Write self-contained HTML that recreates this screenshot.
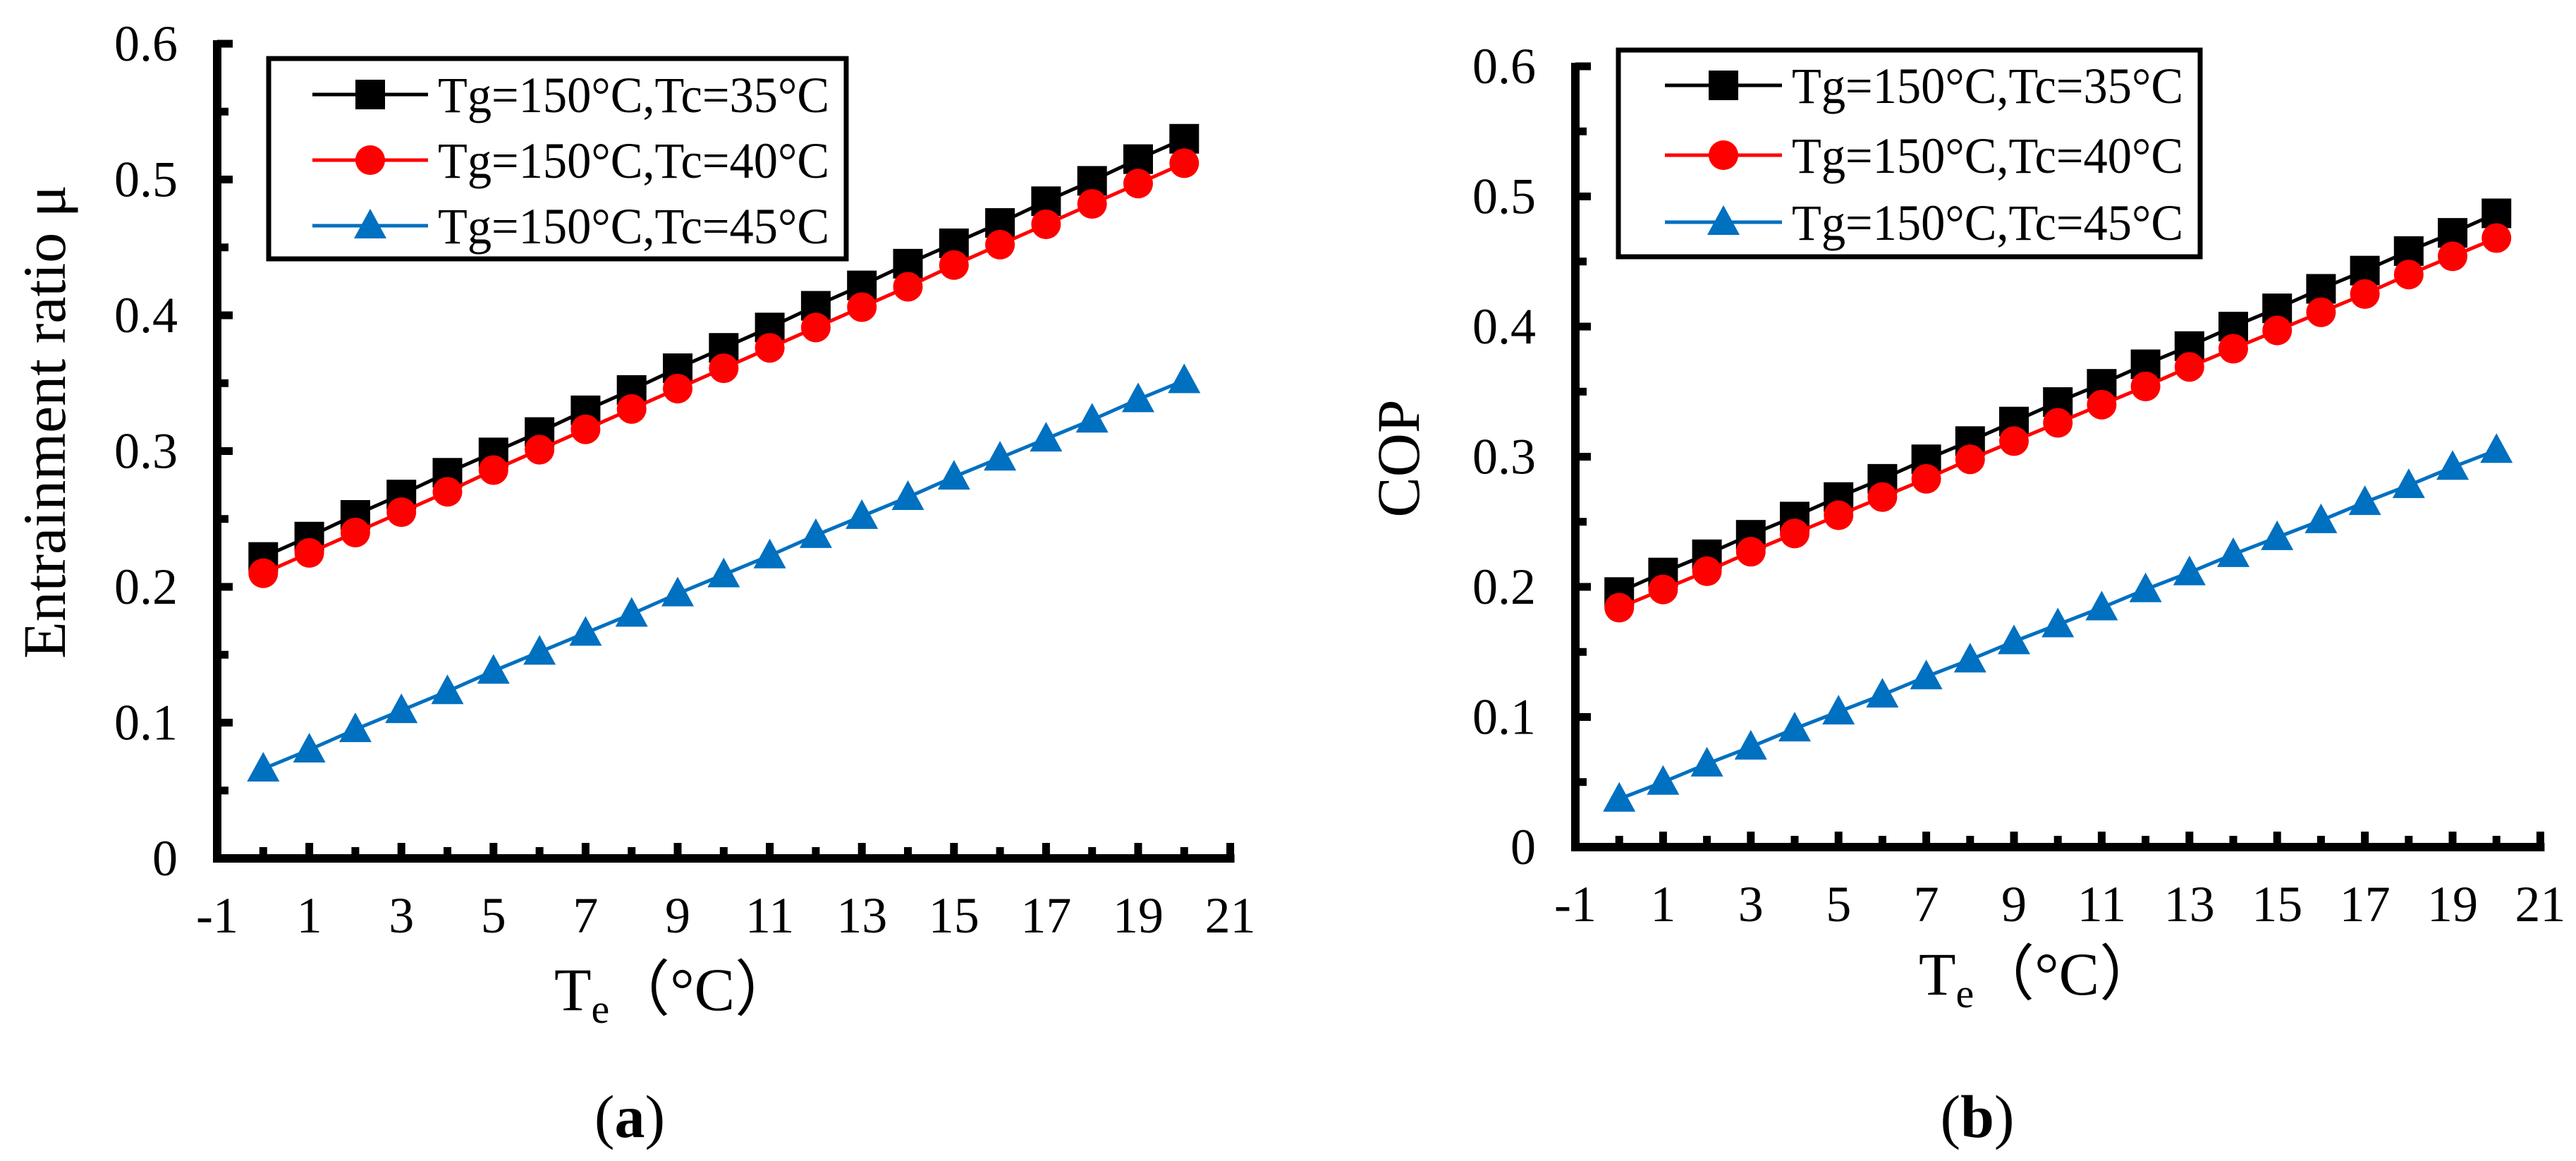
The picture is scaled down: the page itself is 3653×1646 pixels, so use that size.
<!DOCTYPE html>
<html><head><meta charset="utf-8"><style>
html,body{margin:0;padding:0;background:#fff;}
svg{display:block;}
svg text{font-family:"Liberation Serif","DejaVu Serif","Times New Roman",serif;}
</style></head><body>
<svg id="fig" width="3653" height="1646" viewBox="0 0 3653 1646" xmlns="http://www.w3.org/2000/svg" font-family="Liberation Serif, DejaVu Serif, serif"></svg>
<script>
const xValues=[0,1,2,3,4,5,6,7,8,9,10,11,12,13,14,15,16,17,18,19,20];
const xTickLabels=[-1,1,3,5,7,9,11,13,15,17,19,21];
const yTickLabels=[0,0.1,0.2,0.3,0.4,0.5,0.6];
const seriesNames=["Tg=150°C,Tc=35°C","Tg=150°C,Tc=40°C","Tg=150°C,Tc=45°C"];
const muTc35=[0.222,0.237,0.253,0.268,0.284,0.299,0.314,0.330,0.345,0.361,0.376,0.391,0.407,0.422,0.438,0.453,0.468,0.484,0.499,0.515,0.530];
const muTc40=[0.210,0.225,0.240,0.255,0.270,0.286,0.301,0.316,0.331,0.346,0.361,0.376,0.391,0.406,0.421,0.437,0.452,0.467,0.482,0.497,0.512];
const muTc45=[0.066,0.080,0.095,0.109,0.123,0.138,0.152,0.166,0.180,0.195,0.209,0.223,0.238,0.252,0.266,0.281,0.295,0.309,0.323,0.338,0.352];
const copTc35=[0.196,0.211,0.225,0.240,0.254,0.269,0.283,0.298,0.312,0.327,0.342,0.356,0.371,0.385,0.400,0.414,0.429,0.443,0.458,0.472,0.487];
const copTc40=[0.184,0.198,0.212,0.227,0.241,0.255,0.269,0.283,0.298,0.312,0.326,0.340,0.354,0.369,0.383,0.397,0.411,0.425,0.440,0.454,0.468];
const copTc45=[0.037,0.050,0.064,0.077,0.091,0.104,0.117,0.131,0.144,0.158,0.171,0.184,0.198,0.211,0.225,0.238,0.251,0.265,0.278,0.292,0.305];

const NS="http://www.w3.org/2000/svg";
const svg=document.getElementById('fig');
const FF="Liberation Serif, DejaVu Serif, serif";
function mk(tag,attrs,parent){const e=document.createElementNS(NS,tag);for(const k in attrs)e.setAttribute(k,attrs[k]);if(tag==='text')e.setAttribute('font-family',FF);(parent||svg).appendChild(e);return e;}
const colors=["#000000","#ff0000","#0070c0"];
const kinds=["square","circle","triangle"];

function marker(g,kind,cx,cy,color){
  let m;
  if(kind==="square") m=mk('rect',{x:cx-21,y:cy-21,width:42,height:42,fill:color},g);
  else if(kind==="circle") m=mk('circle',{cx:cx,cy:cy,r:21,fill:color},g);
  else m=mk('polygon',{points:`${cx},${cy-24} ${cx+23},${cy+18} ${cx-23},${cy+18}`,fill:color},g);
  return m;
}

function chart(cfg){
  const g=mk('g',{});
  
  
  const X=v=>cfg.x0+(v+1)*cfg.ux;
  const Y=v=>cfg.y0-v*cfg.uy;
  const ax=mk('line',{x1:X(-1),y1:Y(0.6)-5,x2:X(-1),y2:Y(0)+6,stroke:'#000','stroke-width':12},g);
  
  
  const bx=mk('line',{x1:X(-1)-6,y1:Y(0),x2:X(21)+6,y2:Y(0),stroke:'#000','stroke-width':12},g);
  
  
  for(let i=0;i<=12;i++){
    const v=i*0.05;const len=(i%2===0)?22:16;
    mk('line',{x1:X(-1),y1:Y(v),x2:X(-1)+len,y2:Y(v),stroke:'#000','stroke-width':11},g);
  }
  for(let v=-1;v<=21;v++){
    const len=(v%2!==0)?22:16;
    mk('line',{x1:X(v),y1:Y(0),x2:X(v),y2:Y(0)-len,stroke:'#000','stroke-width':11},g);
  }
  yTickLabels.forEach(v=>{
    const t=mk('text',{x:X(-1)-56,y:Y(v)+24,'text-anchor':'end','font-size':72},g);
    t.textContent=String(v);
    
    
  });
  xTickLabels.forEach(v=>{
    const t=mk('text',{x:X(v),y:cfg.xlabY,'text-anchor':'middle','font-size':72},g);
    t.textContent=String(v);
    
    
  });
  cfg.series.forEach((arr,si)=>{
    const sg=mk('g',{},g);
    
    
    const pts=arr.map((v,i)=>X(xValues[i])+','+Y(v)).join(' ');
    mk('polyline',{points:pts,fill:'none',stroke:colors[si],'stroke-width':5},sg);
    arr.forEach((v,i)=>{
      const m=marker(sg,kinds[si],X(xValues[i]),Y(v),colors[si]);
      
      
    });
  });
  const lg=mk('g',{},g);
  
  
  mk('rect',{x:cfg.leg[0],y:cfg.leg[1],width:cfg.leg[2]-cfg.leg[0],height:cfg.leg[3]-cfg.leg[1],fill:'#fff',stroke:'#000','stroke-width':7},lg);
  cfg.legRows.forEach((ry,si)=>{
    const eg=mk('g',{},lg);
    
    
    mk('line',{x1:cfg.legLine[0],y1:ry,x2:cfg.legLine[1],y2:ry,stroke:colors[si],'stroke-width':5},eg);
    marker(eg,kinds[si],(cfg.legLine[0]+cfg.legLine[1])/2,ry,colors[si]);
    const t=mk('text',{x:cfg.legLine[1]+14,y:ry+25,'font-size':72,textLength:cfg.leg[2]-cfg.legLine[1]-38,lengthAdjust:'spacingAndGlyphs'},eg);
    t.textContent=seriesNames[si];
  });
  const xt=mk('text',{x:cfg.xt[0],y:cfg.xt[1],'text-anchor':'middle','font-size':86},g);
  xt.innerHTML='T<tspan font-size="58" dy="18">e</tspan><tspan dy="-18">（°C）</tspan>';
  
  
  const yt=mk('text',{x:0,y:0,'text-anchor':'middle','font-size':86,transform:`translate(${cfg.yt[0]},${cfg.yt[1]}) rotate(-90)`},g);
  yt.textContent=cfg.ytitle;
  
  
  const cap=mk('text',{x:cfg.cap[0],y:cfg.cap[1],'text-anchor':'middle','font-size':86},g);
  cap.innerHTML='(<tspan font-weight="bold">'+cfg.capT+'</tspan>)';
  
  
}

chart({name:'chart-a-entrainment',x0:308,ux:65.3,y0:1217,uy:1925,xlabY:1322,
  series:[muTc35,muTc40,muTc45],leg:[381,83,1200,367],legRows:[134,227,320],legLine:[443,607],
  xt:[957,1432],yt:[92,598],ytitle:'Entrainment ratio μ',cap:[893,1612],capT:'a'});
chart({name:'chart-b-cop',x0:2234,ux:62.2,y0:1201,uy:1845,xlabY:1306,
  series:[copTc35,copTc40,copTc45],leg:[2295,71,3120,364],legRows:[121,220,315],legLine:[2361,2527],
  xt:[2892,1410],yt:[2012,650],ytitle:'COP',cap:[2804,1612],capT:'b'});
</script>
</body></html>
